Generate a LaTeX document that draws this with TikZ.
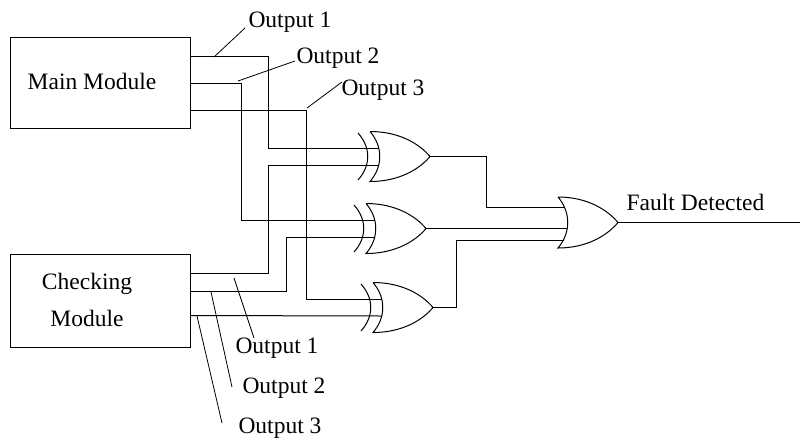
\documentclass[tikz,border=0pt]{standalone}
\usepackage{fontspec}
\setmainfont{Liberation Serif}
\usetikzlibrary{calc}

\begin{document}
\begin{tikzpicture}[x=1pt, y=-1pt, line width=1pt]
    \tikzstyle{modbox}=[draw=black, minimum width=180pt, minimum height=91pt, inner sep=0pt]
    \tikzstyle{txt}=[inner sep=0pt, font=\fontsize{23.5}{37}\selectfont]
    \tikzstyle{lbl}=[txt, anchor=base west]
    \tikzset{
        xorgate/.pic={
            \draw (-12,-23.5) .. controls (1,-9) and (1,9) .. (-12,23.5);
            \draw (0,-25) .. controls (13,-10) and (13,10) .. (0,25)
                  .. controls (30,25) and (50,12) .. (60,0)
                  .. controls (50,-12) and (30,-25) .. (0,-25);
            \coordinate (-in1) at (9,-8.5);
            \coordinate (-in2) at (9,8.5);
            \coordinate (-out) at (60,0);
        },
        orgate/.pic={
            \draw (0,-25.5) .. controls (13,-10) and (13,10) .. (0,25.5)
                  .. controls (30,25.5) and (50,12) .. (60,0)
                  .. controls (50,-12) and (30,-25.5) .. (0,-25.5);
            \coordinate (-in1) at (6.5,-15.5);
            \coordinate (-in2) at (9,6);
            \coordinate (-in3) at (6,17.5);
            \coordinate (-out) at (60,0);
        }
    }
    \useasboundingbox (0,0) rectangle (802,440);

    % modules
    \node[modbox] (main) at (100,82.5) {};
    \node[txt] (maintxt) at (92,81) {Main Module};
    \node[modbox, minimum height=93pt] (check) at (100,300.5) {};
    \node[txt, align=center] (checktxt) at (87,300) {Checking\\Module};

    % gates
    \pic (X1) at (370,156.5) {xorgate};
    \pic (X2) at (366,228.5) {xorgate};
    \pic (X3) at (373,307.5) {xorgate};
    \pic (OR) at (558,222.5) {orgate};

    % outputs of the main module
    \draw ($(main.north east)+(0,20)$) -- ++(78,0) |- (X1-in1);
    \draw ($(main.north east)+(0,47)$) -- ++(51,0) |- (X2-in1);
    \draw ($(main.north east)+(0,74)$) -- ++(116,0) |- (X3-in1);

    % outputs of the checking module
    \draw ($(check.north east)+(0,20)$) -- ++(78,0) |- (X1-in2);
    \draw ($(check.north east)+(0,38)$) -- ++(96,0) |- (X2-in2);
    \draw ($(check.north east)+(0,62)$) -- (X3-in2);

    % into the or gate
    \draw (X1-out) -- ++(56,0) |- (OR-in1);
    \draw (X2-out) -- (OR-in2);
    \draw (X3-out) -- ++(23,0) |- (OR-in3);

    \coordinate (fault) at (800,222.5);
    \draw (OR-out) -- (fault);
    \node[txt] (faulttxt) at (695.5,202) {Fault Detected};

    % labels
    \coordinate (tapM1) at (214,57);
    \coordinate (tapM2) at (238,81);
    \coordinate (tapM3) at (307,108);
    \node[lbl] (lblM1) at (248,27) {Output 1};
    \node[lbl] (lblM2) at (296,63) {Output 2};
    \node[lbl] (lblM3) at (341,95) {Output 3};
    \draw[line width=0.8pt] (tapM1) -- ($(lblM1.base west)+(-3,1)$);
    \draw[line width=0.8pt] (tapM2) -- ($(lblM2.base west)+(-1,-2)$);
    \draw[line width=0.8pt] (tapM3) -- ($(lblM3.base west)+(1,-13)$);

    \coordinate (tapC1) at (234,278);
    \coordinate (tapC2) at (211,292);
    \coordinate (tapC3) at (197,316);
    \node[lbl] (lblC1) at (235,353) {Output 1};
    \node[lbl] (lblC2) at (242,393) {Output 2};
    \node[lbl] (lblC3) at (238,433) {Output 3};
    \draw[line width=0.8pt] (tapC1) -- ($(lblC1.base west)+(19,-15)$);
    \draw[line width=0.8pt] (tapC2) -- ($(lblC2.base west)+(-10,-6)$);
    \draw[line width=0.8pt] (tapC3) -- ($(lblC3.base west)+(-16,-10)$);
\end{tikzpicture}
\end{document}
